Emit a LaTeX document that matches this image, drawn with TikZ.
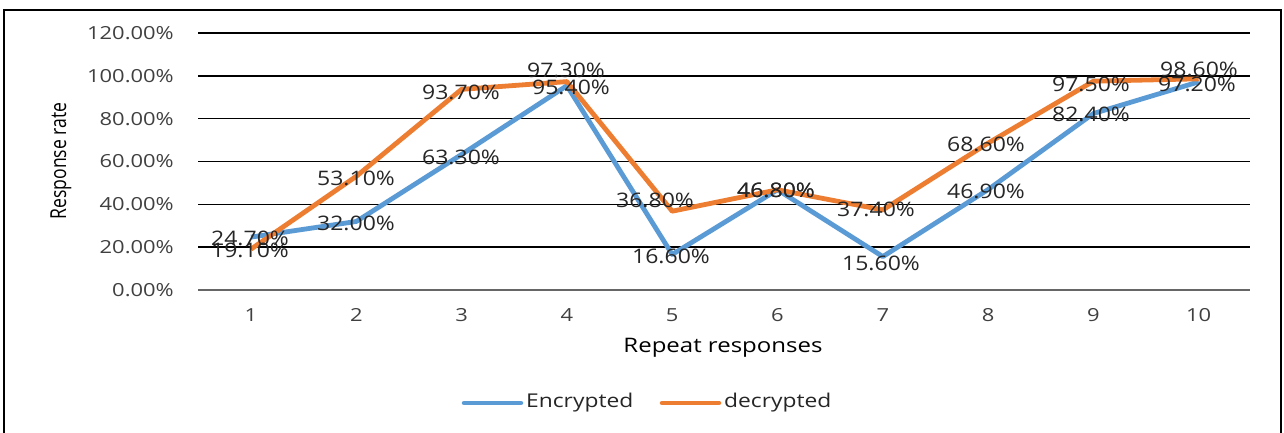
\documentclass[tikz,border=0pt]{standalone}
\usepackage{fontspec}
\setmainfont{Open Sans}
\newfontfamily\wideA[FakeStretch=1.22]{Open Sans}
\newfontfamily\wideB[FakeStretch=1.15]{Open Sans}
\newfontfamily\wideC[FakeStretch=1.2]{Open Sans}
\newfontfamily\narrowA[FakeStretch=0.8]{Open Sans}
\definecolor{encblue}{HTML}{5B9BD5}
\definecolor{decorange}{HTML}{ED7D31}
\definecolor{txt}{HTML}{404040}
\begin{document}
\begin{tikzpicture}[x=1pt,y=-1pt,
  grid/.style={black,line width=1.6pt},
  axisline/.style={gray!80!black,line width=1.6pt},
  enc/.style={encblue,line width=4.8pt,line join=round},
  dec/.style={decorange,line width=4.8pt,line join=round},
  ticklab/.style={font=\wideA\fontsize{18}{18}\selectfont,text=txt,inner sep=0pt},
  datalab/.style={font=\wideB\fontsize{20}{20}\selectfont,text=black!85,inner sep=0pt},
  axlab/.style={font=\wideC\fontsize{20}{20}\selectfont,text=black,inner sep=0pt},
  leglab/.style={font=\wideC\fontsize{19}{19}\selectfont,text=black!85,inner sep=0pt}]
\useasboundingbox (0,0) rectangle (1284,432);
\fill[white] (0,0) rectangle (1284,432);
\draw[black,line width=2pt] (4,445) -- (4,10) -- (1281,10) -- (1281,445);
% gridlines
\foreach \v/\t in {20/20.00\%,40/40.00\%,60/60.00\%,80/80.00\%,100/100.00\%,120/120.00\%}{
  \draw[grid] (198,{290-\v*2.1417}) -- (1250,{290-\v*2.1417});
  \node[ticklab,anchor=east] at (174,{290-\v*2.1417}) {\t};
}
\draw[axisline] (198,290) -- (1250,290);
\node[ticklab,anchor=east] (y0) at (174,290) {0.00\%};
% x tick labels
\foreach \i in {1,...,10}{
  \node[ticklab] (xt\i) at ({251+(\i-1)*105.3},315) {\i};
}
\node[axlab] (xlab) at (723,348) {Repeat responses};
\node[rotate=90,font=\narrowA\fontsize{22}{22}\selectfont,text=black,inner sep=0pt] (ylab) at (61,161) {Response rate};
% data coordinates
\foreach \i/\e/\d in {1/24.7/19.1,2/32.0/53.1,3/63.3/93.7,4/95.4/97.3,5/16.6/36.8,6/46.8/46.8,7/15.6/37.4,8/46.9/68.6,9/82.4/97.5,10/97.2/98.6}{
  \coordinate (e\i) at ({251+(\i-1)*105.3},{290-\e*2.1417});
  \coordinate (d\i) at ({251+(\i-1)*105.3},{290-\d*2.1417});
}
\draw[enc] (e1) -- (e2) -- (e3) -- (e4) -- (e5) -- (e6) -- (e7) -- (e8) -- (e9) -- (e10);
\draw[dec] (d1) -- (d2) -- (d3) -- (d4) -- (d5) -- (d6) -- (d7) -- (d8) -- (d9) -- (d10);
% data labels
\node[datalab] (le1) at (250,238) {24.70\%};
\node[datalab] (ld1) at (250,250) {19.10\%};
\node[datalab] (ld2) at (356,178) {53.10\%};
\node[datalab] (le2) at (356,223) {32.00\%};
\node[datalab] (ld3) at (461,92) {93.70\%};
\node[datalab] (le3) at (461,157) {63.30\%};
\node[datalab] (ld4) at (566,70) {97.30\%};
\node[datalab] (le4) at (571,87) {95.40\%};
\node[datalab] (ld5) at (655,200) {36.80\%};
\node[datalab] (le5) at (671,256) {16.60\%};
\node[datalab] (ld6) at (776,190) {46.80\%};
\node[datalab] (le6) at (776,190) {46.80\%};
\node[datalab] (ld7) at (876,209) {37.40\%};
\node[datalab] (le7) at (881,263) {15.60\%};
\node[datalab] (ld8) at (986,144) {68.60\%};
\node[datalab] (le8) at (986,191) {46.90\%};
\node[datalab] (ld9) at (1091,84) {97.50\%};
\node[datalab] (le9) at (1091,114) {82.40\%};
\node[datalab] (ld10) at (1199,69) {98.60\%};
\node[datalab] (le10) at (1197,84) {97.20\%};
% legend
\coordinate (lea) at (464,403);
\coordinate (leb) at (521,403);
\draw[encblue,line width=4.5pt,line cap=round] (lea) -- (leb);
\node[leglab,anchor=west] (lenc) at (526,403) {Encrypted};
\coordinate (lda) at (662,403);
\coordinate (ldb) at (719,403);
\draw[decorange,line width=4.5pt,line cap=round] (lda) -- (ldb);
\node[leglab,anchor=west] (ldec) at (724,403) {decrypted};
\end{tikzpicture}
\end{document}
